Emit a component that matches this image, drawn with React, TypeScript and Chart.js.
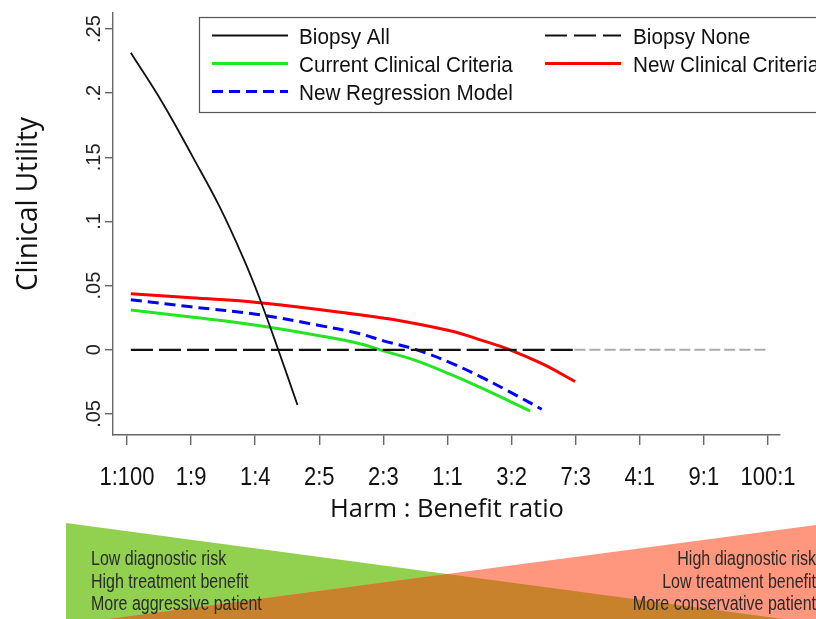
import React, { useEffect, useRef } from "react";
import { Chart, registerables } from "chart.js";

Chart.register(...registerables);

// ---------- data ----------
const xTickPositions = [0, 1, 2, 3, 4, 5, 6, 7, 8, 9, 10];
const xTickLabels = ["1:100", "1:9", "1:4", "2:5", "2:3", "1:1", "3:2", "7:3", "4:1", "9:1", "100:1"];
const yTickValues = [-0.05, 0, 0.05, 0.1, 0.15, 0.2, 0.25];
const yTickLabels = [".05", "0", ".05", ".1", ".15", ".2", ".25"];

const seriesNames = [
  "Biopsy All",
  "Biopsy None",
  "Current Clinical Criteria",
  "New Clinical Criteria",
  "New Regression Model",
];

const biopsyAllX = [0.06, 0.56, 1.03, 1.45, 1.81, 2.07, 2.36, 2.66];
const biopsyAllY = [0.2315, 0.192, 0.15, 0.111, 0.072, 0.04, 0.0, -0.043];

const biopsyNoneX = [0.06, 6.98];
const biopsyNoneY = [0, 0];
const biopsyNoneExtX = [6.98, 10.0];
const biopsyNoneExtY = [0, 0];

const currentX = [0.06, 1.0, 2.07, 3.0, 3.635, 4.0, 4.52, 5.04, 5.56, 6.29];
const currentY = [0.031, 0.0255, 0.0188, 0.011, 0.0047, -0.0008, -0.0086, -0.019, -0.0305, -0.0477];

const newClinicalX = [0.06, 1.0, 2.07, 3.635, 4.26, 5.04, 5.56, 5.975, 6.49, 6.99];
const newClinicalY = [0.0437, 0.0405, 0.0367, 0.0273, 0.0227, 0.0148, 0.007, 0.0, -0.0112, -0.0247];

const newRegressionX = [0.06, 1.0, 2.07, 3.0, 3.635, 4.0, 4.52, 5.04, 5.56, 6.08, 6.47];
const newRegressionY = [0.039, 0.0335, 0.0273, 0.019, 0.0125, 0.007, 0.0, -0.0099, -0.0221, -0.0357, -0.0463];

const yTitle = "Clinical Utility";
const xTitle = "Harm : Benefit ratio";
const leftNotes = ["Low diagnostic risk", "High treatment benefit", "More aggressive patient"];
const rightNotes = ["High diagnostic risk", "Low treatment benefit", "More conservative patient"];

// ---------- helpers ----------
function pts(xs: number[], ys: number[]) {
  return xs.map((x, i) => ({ x, y: ys[i] }));
}

function drawText(
  ctx: CanvasRenderingContext2D,
  text: string,
  x: number,
  y: number,
  o: { font: string; color: string; align: CanvasTextAlign; baseline: CanvasTextBaseline; scaleX?: number; rotate?: number }
) {
  ctx.save();
  ctx.translate(x, y);
  if (o.rotate) ctx.rotate(o.rotate);
  ctx.scale(o.scaleX ?? 1, 1);
  ctx.font = o.font;
  ctx.fillStyle = o.color;
  ctx.textAlign = o.align;
  ctx.textBaseline = o.baseline;
  ctx.fillText(text, 0, 0);
  ctx.restore();
}

const SANS = "'Liberation Sans', Arial, sans-serif";
const TITLE = "'Open Sans', 'Noto Sans', sans-serif";

const decorPlugin = {
  id: "decor",
  beforeDraw(chart: any) {
    const ctx: CanvasRenderingContext2D = chart.ctx;
    ctx.save();
    ctx.fillStyle = "#ffffff";
    ctx.fillRect(0, 0, chart.width, chart.height);
    // bottom wedges
    const poly = (p: number[][], color: string) => {
      ctx.beginPath();
      ctx.moveTo(p[0][0], p[0][1]);
      for (let i = 1; i < p.length; i++) ctx.lineTo(p[i][0], p[i][1]);
      ctx.closePath();
      ctx.fillStyle = color;
      ctx.fill();
    };
    poly([[66, 523], [783, 619], [66, 619]], "#92d050");
    poly([[816, 525], [816, 619], [108, 619]], "#ff967e");
    poly([[108, 619], [447, 574], [783, 619]], "#c8822b");
    ctx.restore();

    const noteBase = [565, 587.5, 610];
    leftNotes.forEach((t, i) =>
      drawText(ctx, t, 91, noteBase[i], { font: `20px ${SANS}`, color: "#2a2a2a", align: "left", baseline: "alphabetic", scaleX: 0.8 })
    );
    rightNotes.forEach((t, i) =>
      drawText(ctx, t, 816, noteBase[i], { font: `20px ${SANS}`, color: "#2a2a2a", align: "right", baseline: "alphabetic", scaleX: 0.8 })
    );
  },
  afterDraw(chart: any) {
    const ctx: CanvasRenderingContext2D = chart.ctx;
    const xs = chart.scales.x;
    const ys = chart.scales.y;

    // y tick labels (rotated)
    ys.ticks.forEach((t: any) => {
      const idx = yTickValues.findIndex((v) => Math.abs(v - t.value) < 1e-9);
      if (idx < 0) return;
      drawText(ctx, yTickLabels[idx], 100, ys.getPixelForValue(t.value), {
        font: `20px ${SANS}`, color: "#222", align: "center", baseline: "alphabetic", rotate: -Math.PI / 2,
      });
    });

    // x tick labels
    xs.ticks.forEach((t: any) => {
      const idx = xTickPositions.indexOf(t.value);
      if (idx < 0) return;
      drawText(ctx, xTickLabels[idx], xs.getPixelForValue(t.value), 485, {
        font: `25px ${SANS}`, color: "#111", align: "center", baseline: "alphabetic", scaleX: 0.88,
      });
    });

    // axis titles
    drawText(ctx, yTitle, 37, 204, { font: `29px ${TITLE}`, color: "#111", align: "center", baseline: "alphabetic", rotate: -Math.PI / 2, scaleX: 0.96 });
    drawText(ctx, xTitle, 447, 517, { font: `25px ${TITLE}`, color: "#111", align: "center", baseline: "alphabetic", scaleX: 1.02 });

    // legend
    ctx.save();
    ctx.fillStyle = "#ffffff";
    ctx.fillRect(199.5, 17.5, 640, 95);
    ctx.strokeStyle = "#555";
    ctx.lineWidth = 1.2;
    ctx.strokeRect(199.5, 17.5, 640, 95);
    ctx.restore();
    const colLine = [212, 545];
    const colText = [299, 633];
    const rowBase = [44, 72, 100];
    const ds = chart.data.datasets.filter((d: any) => d.label);
    ds.forEach((d: any, i: number) => {
      const c = i % 2;
      const r = Math.floor(i / 2);
      const ly = rowBase[r] - 8.5;
      ctx.save();
      ctx.strokeStyle = d.borderColor;
      ctx.lineWidth = d.borderWidth;
      ctx.setLineDash(d.legendDash || d.borderDash || []);
      ctx.beginPath();
      ctx.moveTo(colLine[c], ly);
      ctx.lineTo(colLine[c] + 76, ly);
      ctx.stroke();
      ctx.restore();
      drawText(ctx, d.label, colText[c], rowBase[r], { font: `22px ${SANS}`, color: "#111", align: "left", baseline: "alphabetic", scaleX: 0.94 });
    });
  },
};

export default function App() {
  const ref = useRef<HTMLCanvasElement | null>(null);
  useEffect(() => {
    if (!ref.current) return;
    const common = { pointRadius: 0, fill: false, tension: 0.4, borderCapStyle: "butt" as const };
    const chart = new Chart(ref.current, {
      type: "line",
      data: {
        datasets: [
          { ...common, label: seriesNames[0], data: pts(biopsyAllX, biopsyAllY), borderColor: "#111111", borderWidth: 1.8 },
          { ...common, label: seriesNames[1], data: pts(biopsyNoneX, biopsyNoneY), borderColor: "#111111", borderWidth: 2.2, borderDash: [22, 6], legendDash: [22, 7] } as any,
          { ...common, label: seriesNames[2], data: pts(currentX, currentY), borderColor: "#22e622", borderWidth: 3 },
          { ...common, label: seriesNames[3], data: pts(newClinicalX, newClinicalY), borderColor: "#ff0000", borderWidth: 3 },
          { ...common, label: seriesNames[4], data: pts(newRegressionX, newRegressionY), borderColor: "#0000ff", borderWidth: 3, borderDash: [11, 6] },
          { ...common, label: "", data: pts(biopsyNoneExtX, biopsyNoneExtY), borderColor: "#aaaaaa", borderWidth: 2, borderDash: [11, 4] },
        ],
      },
      options: {
        animation: false,
        responsive: false,
        devicePixelRatio: 1,
        layout: { padding: { left: 105, top: 13, right: 36, bottom: 0 } },
        plugins: { legend: { display: false }, tooltip: { enabled: false }, title: { display: false } },
        scales: {
          x: {
            type: "linear",
            min: -0.218,
            max: 10.187,
            afterBuildTicks: (s: any) => { s.ticks = xTickPositions.map((v) => ({ value: v })); },
            afterFit: (s: any) => { s.height = 184; },
            ticks: { display: false },
            grid: { drawOnChartArea: false, drawTicks: true, tickLength: 10, color: "#666", lineWidth: 1.4 },
            border: { display: true, color: "#666", width: 1.4 },
          },
          y: {
            type: "linear",
            min: -0.0664,
            max: 0.2625,
            afterBuildTicks: (s: any) => { s.ticks = yTickValues.map((v) => ({ value: v })); },
            afterFit: (s: any) => { s.width = 8; },
            ticks: { display: false },
            grid: { drawOnChartArea: false, drawTicks: true, tickLength: 8, color: "#666", lineWidth: 1.4 },
            border: { display: true, color: "#666", width: 1.4 },
          },
        },
      },
      plugins: [decorPlugin],
    } as any);
    return () => chart.destroy();
  }, []);
  return (
    <div style={{ position: "fixed", left: 0, top: 0, width: 816, height: 619, background: "#fff" }}>
      <canvas ref={ref} width={816} height={619} style={{ width: 816, height: 619, display: "block" }} />
    </div>
  );
}
